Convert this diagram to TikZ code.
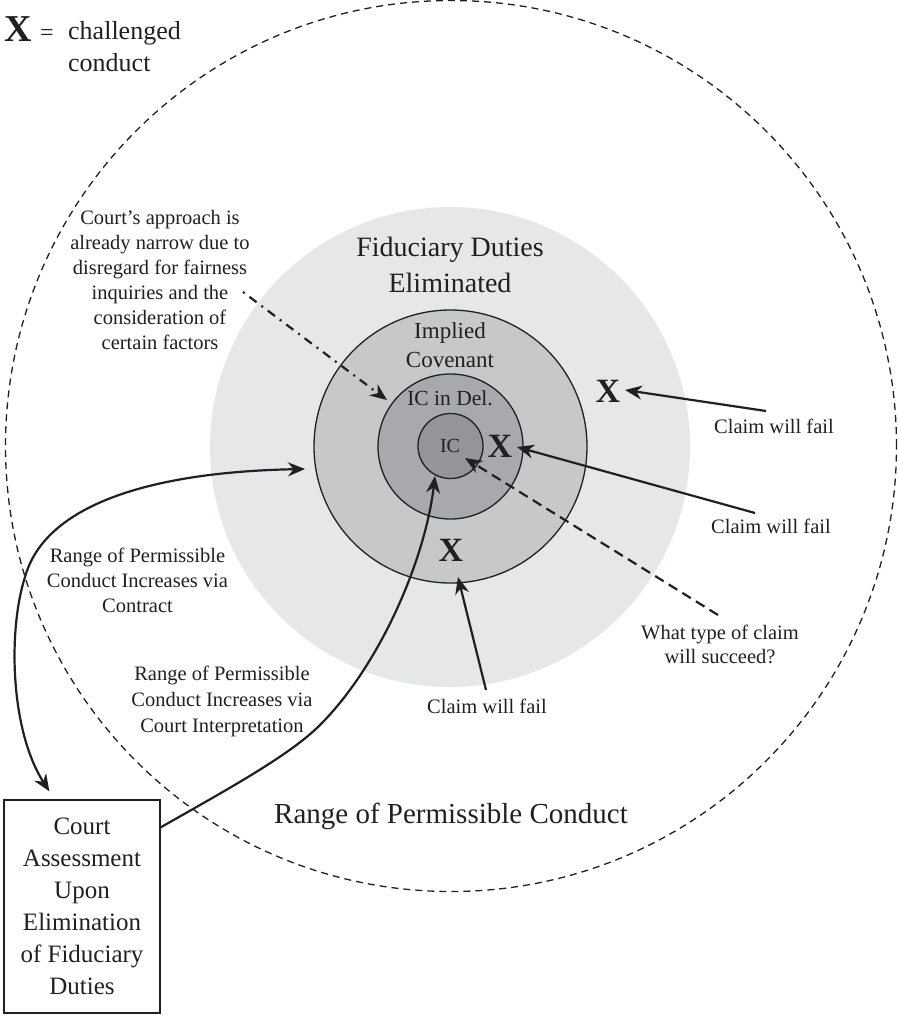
\documentclass[tikz,border=0pt]{standalone}
\usepackage{fontspec}
\setmainfont{Liberation Serif}
\usetikzlibrary{arrows.meta}
\definecolor{ink}{HTML}{231F20}
\definecolor{gA}{HTML}{E6E7E8}
\definecolor{gB}{HTML}{C7C8CA}
\definecolor{gC}{HTML}{A7A9AC}
\definecolor{gD}{HTML}{939598}
\newcommand\myfs[2]{\fontsize{#1}{#2}\selectfont}
\begin{document}
\begin{tikzpicture}[x=1pt,y=-1pt,
  ring/.style={circle, draw=ink, line width=1.3pt, inner sep=0pt},
  lbl/.style={text=ink, align=center, inner sep=0pt},
  xmark/.style={text=ink, inner sep=0pt, font=\myfs{34}{34}\bfseries, anchor=base},
  arr/.style={draw=ink, line width=2.2pt, -{Stealth[length=17pt,width=14pt]}},
  arrboth/.style={draw=ink, line width=2.2pt, {Stealth[length=17pt,width=14pt]}-{Stealth[length=17pt,width=14pt]}},
  dasharr/.style={arr, dash pattern=on 10pt off 6pt},
  dotarr/.style={arr, dash pattern=on 2pt off 6pt on 9pt off 6pt}]
\useasboundingbox (0,0) rectangle (899,1015);

% circles
\node[circle, draw=ink, line width=1.3pt, dash pattern=on 7pt off 5pt, minimum size=891pt, inner sep=0pt] (range) at (451,446) {};
\node[circle, fill=gA, minimum size=480pt, inner sep=0pt] (fid) at (450,447) {};
\node[ring, fill=gB, minimum size=273pt] (ic1) at (450.5,446.5) {};
\node[ring, fill=gC, minimum size=145pt] (ic2) at (450.5,446.5) {};
\node[ring, fill=gD, minimum size=65pt] (ic3) at (450.5,446) {};

% legend
\node[lbl, font=\myfs{38}{38}\bfseries, anchor=base] (legX) at (18.5,41) {X};
\node[lbl, font=\myfs{24}{24}, anchor=base] (legeq) at (47,40) {=};
\node[lbl, font=\myfs{26}{32}, align=left, anchor=base west] (legtxt) at (68,71) {challenged\\conduct};

% labels (multi-line nodes: base = last line)
\node[lbl, font=\myfs{28}{36}, anchor=base] (fidlbl) at (450,292) {Fiduciary Duties\\Eliminated};
\node[lbl, font=\myfs{23}{29}, anchor=base] (iclbl) at (450,367) {Implied\\Covenant};
\node[lbl, font=\myfs{21.5}{26}, anchor=base] (icdel) at (450,405) {IC in Del.};
\node[lbl, font=\myfs{20}{24}, anchor=base] (iclabel) at (450,452) {IC};
\node[lbl, font=\myfs{29}{34}, anchor=base] (rangelbl) at (451,823) {Range of Permissible Conduct};
\node[lbl, font=\myfs{20.5}{25}, anchor=base] (court) at (160,349) {Court’s approach is\\already narrow due to\\disregard for fairness\\inquiries and the\\consideration of\\certain factors};
\node[lbl, font=\myfs{20.5}{25}, anchor=base] (fail1) at (774,433) {Claim will fail};
\node[lbl, font=\myfs{20.5}{25}, anchor=base] (fail2) at (771,533) {Claim will fail};
\node[lbl, font=\myfs{20.5}{25}, anchor=base] (fail3) at (487,713) {Claim will fail};
\node[lbl, font=\myfs{20.5}{24}, anchor=base] (what) at (720,663) {What type of claim\\will succeed?};
\node[lbl, font=\myfs{20.5}{25}, anchor=base] (contract) at (137.5,612) {Range of Permissible\\Conduct Increases via\\Contract};
\node[lbl, font=\myfs{20.5}{26}, anchor=base] (interp) at (222,732) {Range of Permissible\\Conduct Increases via\\Court Interpretation};

% X marks
\node[xmark] (x1) at (608,402) {X};
\node[xmark] (x2) at (500,457) {X};
\node[xmark] (x3) at (451,561) {X};

% box
\node[draw=ink, line width=1.3pt, text=ink, align=center, minimum width=156pt, minimum height=213pt, inner sep=0pt, font=\myfs{25}{32}] (box) at (82,906.5) {Court\\Assessment\\Upon\\Elimination\\of Fiduciary\\Duties};

% connector end points
\coordinate (t1) at (766,411);
\coordinate (h1) at (625,390);
\coordinate (t2) at (755,513);
\coordinate (h2) at (517,447);
\coordinate (t3) at (486,690);
\coordinate (h3) at (458,577);
\coordinate (tw) at (718,615);
\coordinate (hw) at (465,458);
\coordinate (tc) at (243,292);
\coordinate (hc) at (387,400);
\coordinate (hk) at (305,469);
\coordinate (hi) at (435,476);

% arrows
\draw[arr] (t1) -- (h1);
\draw[arr] (t2) -- (h2);
\draw[arr] (t3) -- (h3);
\draw[dasharr] (tw) -- (hw);
\draw[dotarr] (tc) -- (hc);
\draw[arrboth] (hk) .. controls (150,472) and (45,505) .. (25,577)
  .. controls (8,630) and (10,730) .. ([xshift=46pt,yshift=8pt]box.north west);
\draw[arr] ([yshift=-28pt]box.north east) .. controls (230,788) and (290,755) .. (320,725)
  .. controls (380,665) and (425,560) .. (hi);
\end{tikzpicture}
\end{document}
